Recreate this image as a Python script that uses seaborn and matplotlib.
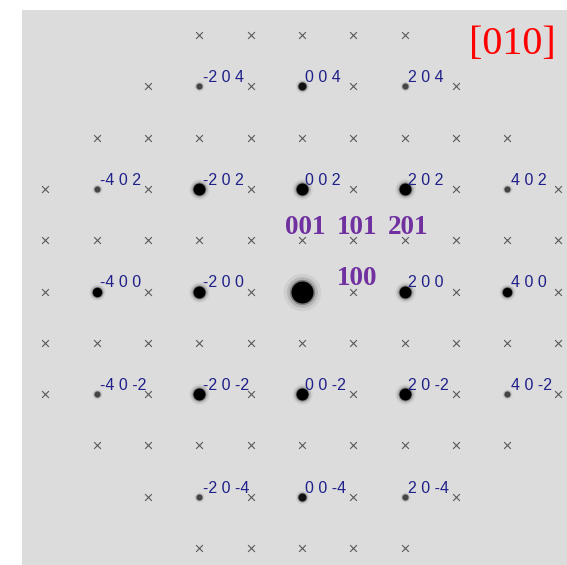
import pandas as pd
import matplotlib
matplotlib.use('Agg')
import matplotlib.pyplot as plt
import seaborn as sns

sns.set_style('white')

# diffraction spots (h, l) of the [010] zone and how strong they look
spot_h = [0, 2, -2, 0, 0, 2, 2, -2, -2, 4, -4, 0, 0, 2, -2, 2, -2, 4, 4, -4, -4]
spot_l = [0, 0, 0, 2, -2, 2, -2, 2, -2, 0, 0, 4, -4, 4, 4, -4, -4, 2, -2, 2, -2]
spot_kind = ['center'] + ['strong'] * 8 + ['medium'] * 2 + ['weak'] * 2 + ['faint'] * 8

# rows of forbidden/absent positions (crosses): l value and max |h| in that row
row_l = [5, 4, 3, 2, 1, 0, -1, -2, -3, -4, -5]
row_hmax = [2, 3, 4, 5, 5, 5, 5, 5, 4, 3, 2]

# purple labels for the first-order positions
purple_text = ['001', '101', '201', '100']
purple_h = [0, 1, 2, 1]
purple_l = [1, 1, 1, 0]

zone_axis = '[010]'

spots = pd.DataFrame({'h': spot_h, 'l': spot_l, 'kind': spot_kind})
spot_set = set(zip(spot_h, spot_l))
crosses = pd.DataFrame(
    [(h, l) for l, hm in zip(row_l, row_hmax) for h in range(-hm, hm + 1)
     if (h, l) not in spot_set],
    columns=['h', 'l'])

fig = plt.figure(figsize=(5.67, 5.65), dpi=100)
ax = fig.add_axes([22 / 567, 0, 545 / 567, 555 / 565])
ax.set_facecolor('#dcdcdc')

# crosses
sns.scatterplot(data=crosses, x='h', y='l', marker='x', s=24, color='#5a5a5a',
                linewidth=0.8, legend=False, ax=ax)

# spots, drawn with a few halo layers to look blurred
spot_style = {'center': (22, 'black'), 'strong': (12, 'black'), 'medium': (9.5, 'black'),
              'weak': (8, '#111111'), 'faint': (6, '#454545')}
halo = [(1.7, 0.06), (1.4, 0.12), (1.15, 0.3), (1.0, 1.0)]
px2pt = 72 / 100
for kind, (d, col) in spot_style.items():
    sub = spots[spots['kind'] == kind]
    for scale, alpha in halo:
        sns.scatterplot(data=sub, x='h', y='l', s=(d * scale * px2pt) ** 2, color=col,
                        alpha=alpha, linewidth=0, legend=False, ax=ax)

# hkl labels next to each spot
for h, l in zip(spot_h, spot_l):
    if h == 0 and l == 0:
        continue
    ax.annotate(f'{h} 0 {l}', (h, l), xytext=(2.5, 3), textcoords='offset points',
                ha='left', va='baseline', fontsize=11.5, color='#20208a',
                family='Liberation Sans')

for txt, h, l in zip(purple_text, purple_h, purple_l):
    ax.annotate(txt, (h, l), xytext=(2.5, 4.5), textcoords='offset points',
                ha='center', va='baseline', fontsize=19.5, fontweight='bold',
                family='Liberation Serif', color='#7030a0')

ax.text(0.899, 0.937, zone_axis, transform=ax.transAxes, ha='center', va='center',
        fontsize=29, family='Liberation Serif', color='red')

ax.set_xlim(-5.458, 5.166)
ax.set_ylim(-5.331, 5.487)
ax.set_xticks([])
ax.set_yticks([])
ax.set_xlabel('')
ax.set_ylabel('')
for s in ax.spines.values():
    s.set_visible(False)

fig.savefig('out.png', dpi=100)
